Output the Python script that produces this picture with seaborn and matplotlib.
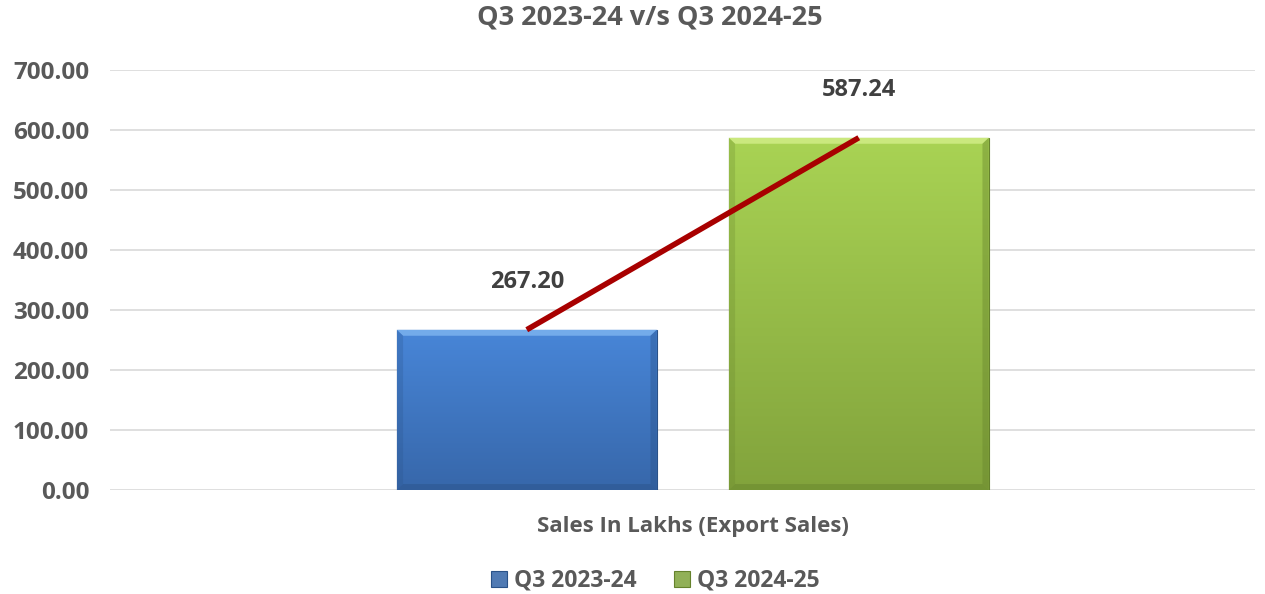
"""Q3 出口销售对比 — 柱状图 + 连线"""

import numpy as np
import pandas as pd
import matplotlib.pyplot as plt
import matplotlib.colors as mcolors
from matplotlib.patches import Polygon
import seaborn as sns

categories = ['Sales In Lakhs (Export Sales)']
periods = ['Q3 2023-24', 'Q3 2024-25']
sales = [267.20, 587.24]
y_ticks = [0, 100, 200, 300, 400, 500, 600, 700]

# 每根柱子的渐变色（上 -> 下）
top_colors = ['#4886d8', '#a9d354']
bottom_colors = ['#3767aa', '#82a33c']
edge_colors = ['#2a5288', '#65822c']
light_colors = ['#7fb5f0', '#d3ee8a']

sns.set_theme(style='white')
plt.rcParams['font.family'] = ['Open Sans', 'DejaVu Sans']

df = pd.DataFrame({
    'category': categories * len(periods),
    'period': periods,
    'sales': sales,
})

fig = plt.figure(figsize=(12.65, 5.94), dpi=100)
ax = fig.add_axes([0.087, 0.175, 0.905, 0.707])

sns.barplot(data=df, x='category', y='sales', hue='period',
            palette=['#3f78c4', '#96bf48'], width=0.58, gap=0.217,
            ax=ax, legend=True, zorder=3)

bars = ax.patches[:len(periods)]
bx, by = 0.0055, 10   # 斜角宽度（数据单位）
for i, bar in enumerate(bars):
    bar.set_edgecolor(edge_colors[i])
    bar.set_linewidth(0.8)
    x0, w = bar.get_x(), bar.get_width()
    h = bar.get_height()
    x1 = x0 + w
    # 渐变填充
    cmap = mcolors.LinearSegmentedColormap.from_list(
        f'g{i}', [bottom_colors[i], top_colors[i]])
    grad = np.linspace(0, 1, 256).reshape(-1, 1)
    im = ax.imshow(grad, extent=[x0, x1, 0, h], origin='lower',
                   aspect='auto', cmap=cmap, zorder=3.5)
    im.set_clip_path(bar)
    # 斜角：上亮、下暗、两侧略暗
    ax.add_patch(Polygon([(x0, h), (x1, h), (x1 - bx, h - by), (x0 + bx, h - by)],
                         closed=True, color=light_colors[i], alpha=0.8, lw=0, zorder=3.6))
    ax.add_patch(Polygon([(x0, 0), (x1, 0), (x1 - bx, by), (x0 + bx, by)],
                         closed=True, color=edge_colors[i], alpha=0.45, lw=0, zorder=3.6))
    ax.add_patch(Polygon([(x0, 0), (x0 + bx, by), (x0 + bx, h - by), (x0, h)],
                         closed=True, color=edge_colors[i], alpha=0.25, lw=0, zorder=3.6))
    ax.add_patch(Polygon([(x1, 0), (x1 - bx, by), (x1 - bx, h - by), (x1, h)],
                         closed=True, color=edge_colors[i], alpha=0.4, lw=0, zorder=3.6))

# 数值标签
for bar, val in zip(bars, sales):
    ax.annotate(f'{val:.2f}', (bar.get_x() + bar.get_width() / 2, val),
                xytext=(0, 26), textcoords='offset points', ha='center',
                va='bottom', fontsize=17, fontweight='bold', color='#404040')

# 连接两根柱子顶部的红线
centers = [b.get_x() + b.get_width() / 2 for b in bars]
ax.plot(centers, sales, color='#a80000', lw=4, zorder=5,
        solid_capstyle='butt')

ax.set_ylim(0, 700)
ax.set_xlim(-0.509, 0.491)
ax.set_yticks(y_ticks)
ax.set_yticklabels([f'{v:.2f}' for v in y_ticks])
ax.yaxis.grid(True, color='#d9d9d9', lw=1.2, zorder=0)
ax.set_axisbelow(True)
for s in ax.spines.values():
    s.set_visible(False)
ax.tick_params(axis='y', length=0, labelsize=17.5, labelcolor='#595959', pad=15)
ax.tick_params(axis='x', length=0, labelsize=16, labelcolor='#595959', pad=19)
for lab in ax.get_xticklabels() + ax.get_yticklabels():
    lab.set_fontweight('bold')
ax.set_xlabel('')
ax.set_ylabel('')

fig.suptitle('Q3 2023-24 v/s Q3 2024-25', x=0.514, y=0.97, va='center',
             fontsize=19.5, fontweight='bold', color='#595959')

ax.legend_.remove()
handles = bars
leg = fig.legend(handles, periods, loc='center', bbox_to_anchor=(0.518, 0.022),
                 ncol=2, frameon=False, fontsize=16.5, handlelength=0.7,
                 handleheight=0.7, handletextpad=0.3, columnspacing=1.6)
for t in leg.get_texts():
    t.set_fontweight('bold')
    t.set_color('#595959')

fig.savefig('out.png', dpi=100)
